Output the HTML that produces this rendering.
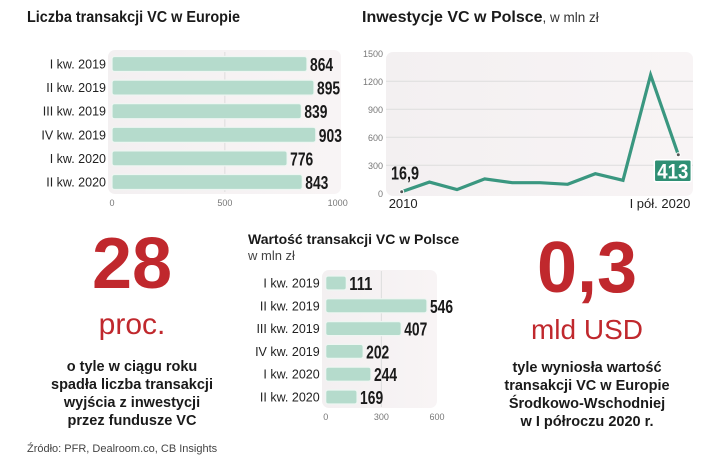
<!DOCTYPE html>
<html><head><meta charset="utf-8"><style>
body{margin:0;background:#fff;}
svg{display:block;font-family:"Liberation Sans",sans-serif;}
</style></head><body>
<svg id="c" width="720" height="464" viewBox="0 0 720 464" xmlns="http://www.w3.org/2000/svg">
<defs>
<linearGradient id="pg" x1="0" y1="0" x2="1" y2="0"><stop offset="0" stop-color="#f3f0f1"/><stop offset="1" stop-color="#f8f4f5"/></linearGradient>
</defs>
<text x="27" y="22" font-size="15.5" font-weight="bold" fill="#1a1a1a" textLength="213" lengthAdjust="spacingAndGlyphs">Liczba transakcji VC w Europie</text>
<rect x="108" y="50" width="233" height="144" rx="7" fill="url(#pg)"/>
<g id="eu"></g>
<text x="362" y="22" font-size="16" font-weight="bold" fill="#1a1a1a">Inwestycje VC w Polsce<tspan font-weight="normal" font-size="13.5" fill="#333">, w mln zł</tspan></text>
<rect x="386" y="52" width="307" height="144" rx="7" fill="url(#pg)"/>
<g id="ln"></g>
<text x="248" y="244" font-size="14" font-weight="bold" fill="#1a1a1a">Wartość transakcji VC w Polsce</text>
<text x="248" y="260" font-size="13" fill="#444">w mln zł</text>
<rect x="322" y="270" width="115" height="138" rx="7" fill="url(#pg)"/>
<g id="pl"></g>
<text x="132" y="288" font-size="72" font-weight="bold" fill="#c0282d" text-anchor="middle">28</text>
<text x="132" y="334" font-size="30" fill="#c0282d" text-anchor="middle">proc.</text>
<g font-size="14.5" font-weight="bold" fill="#1a1a1a" text-anchor="middle">
<text x="132" y="371">o tyle w ciągu roku</text>
<text x="132" y="389">spadła liczba transakcji</text>
<text x="132" y="407">wyjścia z inwestycji</text>
<text x="132" y="425">przez fundusze VC</text>
</g>
<text x="27" y="452" font-size="11" fill="#444">Źródło: PFR, Dealroom.co, CB Insights</text>
<text x="587" y="292" font-size="72" font-weight="bold" fill="#c0282d" text-anchor="middle">0,3</text>
<text x="587" y="339" font-size="28" fill="#c0282d" text-anchor="middle">mld USD</text>
<g font-size="14.5" font-weight="bold" fill="#1a1a1a" text-anchor="middle">
<text x="587" y="372">tyle wyniosła wartość</text>
<text x="587" y="390">transakcji VC w Europie</text>
<text x="587" y="408">Środkowo-Wschodniej</text>
<text x="587" y="426">w I półroczu 2020 r.</text>
</g>
</svg>
<script>
const NS="http://www.w3.org/2000/svg";
const euCats=["I kw. 2019","II kw. 2019","III kw. 2019","IV kw. 2019","I kw. 2020","II kw. 2020"];
const euVals=[864,895,839,903,776,843];
const euTicks=[0,500,1000];
const plCats=["I kw. 2019","II kw. 2019","III kw. 2019","IV kw. 2019","I kw. 2020","II kw. 2020"];
const plVals=[111,546,407,202,244,169];
const plTicks=[0,300,600];
const lnYears=["2010","2011","2012","2013","2014","2015","2016","2017","2018","2019","I pół. 2020"];
const lnVals=[16.9,120,40,154,114,114,96,210,139,1268,413];
const lnTicks=[0,300,600,900,1200,1500];
function mk(t,a,p,txt){const e=document.createElementNS(NS,t);for(const k in a)e.setAttribute(k,a[k]);if(txt!==undefined)e.textContent=txt;p.appendChild(e);return e;}
function barChart(gid,cats,vals,ticks,x0,x1,max,y0,step,bh,tickY,pref){
  const g=document.getElementById(gid);
  const sx=v=>x0+(v/max)*(x1-x0);
  const mid=ticks[1];
  mk("line",{x1:sx(mid),x2:sx(mid),y1:y0-12,y2:y0+step*(cats.length-1)+10,stroke:"#ddd","stroke-width":1},g);
  ticks.forEach(t=>{const e=mk("text",{x:sx(t),y:tickY,"font-size":9,fill:"#777","text-anchor":"middle"},g,String(t));
    
    });
  cats.forEach((c,i)=>{const cy=y0+i*step;
    const l=mk("text",{x:x0-6,y:cy+4.5,"font-size":12.5,fill:"#222","text-anchor":"end"},g,c);
    
    
    const r=mk("rect",{x:x0,y:cy-bh/2,width:sx(vals[i])-x0,height:bh,rx:2.5,fill:"#b5dbcc",stroke:"#eef6f2","stroke-width":1.2},g);
    
    
    const s=String(vals[i]);
    const v=mk("text",{x:sx(vals[i])+3,y:cy+7,"font-size":18,"font-weight":"bold",fill:"#1a1a1a",textLength:s.length*7.7,lengthAdjust:"spacingAndGlyphs"},g,s);
    
    
  });
}
barChart("eu",euCats,euVals,euTicks,112,337.7,1000,64,23.6,15,206,"europe");
barChart("pl",plCats,plVals,plTicks,325.7,437,600,283,22.8,14,420,"poland");
(function(){
  const g=document.getElementById("ln");
  const x0=401.7,x1=678.3,yb=193.3,yt=53.3,max=1500;
  const sx=i=>x0+i*(x1-x0)/(lnVals.length-1);
  const sy=v=>yb-(v/max)*(yb-yt);
  lnTicks.forEach(t=>{
    if(t>0&&t<1500)mk("line",{x1:386,x2:693,y1:sy(t),y2:sy(t),stroke:"#ddd","stroke-width":1},g);
    const e=mk("text",{x:383,y:sy(t)+3.5,"font-size":9,fill:"#777","text-anchor":"end"},g,String(t));
    
    
  });
  const pts=lnVals.map((v,i)=>sx(i).toFixed(1)+","+sy(v).toFixed(1)).join(" ");
  const p=mk("polyline",{points:pts,fill:"none",stroke:"#3a9780","stroke-width":3.2,"stroke-linejoin":"miter"},g);
  
  
  const n=lnVals.length-1;
  [0,n].forEach(i=>{const d=mk("circle",{cx:sx(i),cy:sy(lnVals[i]),r:2,fill:"#555",stroke:"#fff","stroke-width":1},g);
    
    });
  const s0=String(lnVals[0]).replace(".",",");
  const a=mk("text",{x:391,y:sy(lnVals[0])-12,"font-size":18,"font-weight":"bold",fill:"#1a1a1a",textLength:28,lengthAdjust:"spacingAndGlyphs"},g,s0);
  
  
  const bx=sx(n)-24,by=sy(lnVals[n])+5;
  const b=mk("rect",{x:bx,y:by,width:37,height:22,rx:2,fill:"#2f8f74",stroke:"#fff","stroke-width":1.5},g);
  
  
  const bt=mk("text",{x:bx+18.5,y:by+18.5,"font-size":21,"font-weight":"bold",fill:"#fff","text-anchor":"middle",textLength:31,lengthAdjust:"spacingAndGlyphs"},g,String(lnVals[n]));
  
  
  const l1=mk("text",{x:sx(0)-13,y:208,"font-size":13,fill:"#222"},g,lnYears[0]);
  
  
  const l2=mk("text",{x:sx(n)+12,y:208,"font-size":13,fill:"#222","text-anchor":"end"},g,lnYears[n]);
  
  
})();
</script>
</body></html>
